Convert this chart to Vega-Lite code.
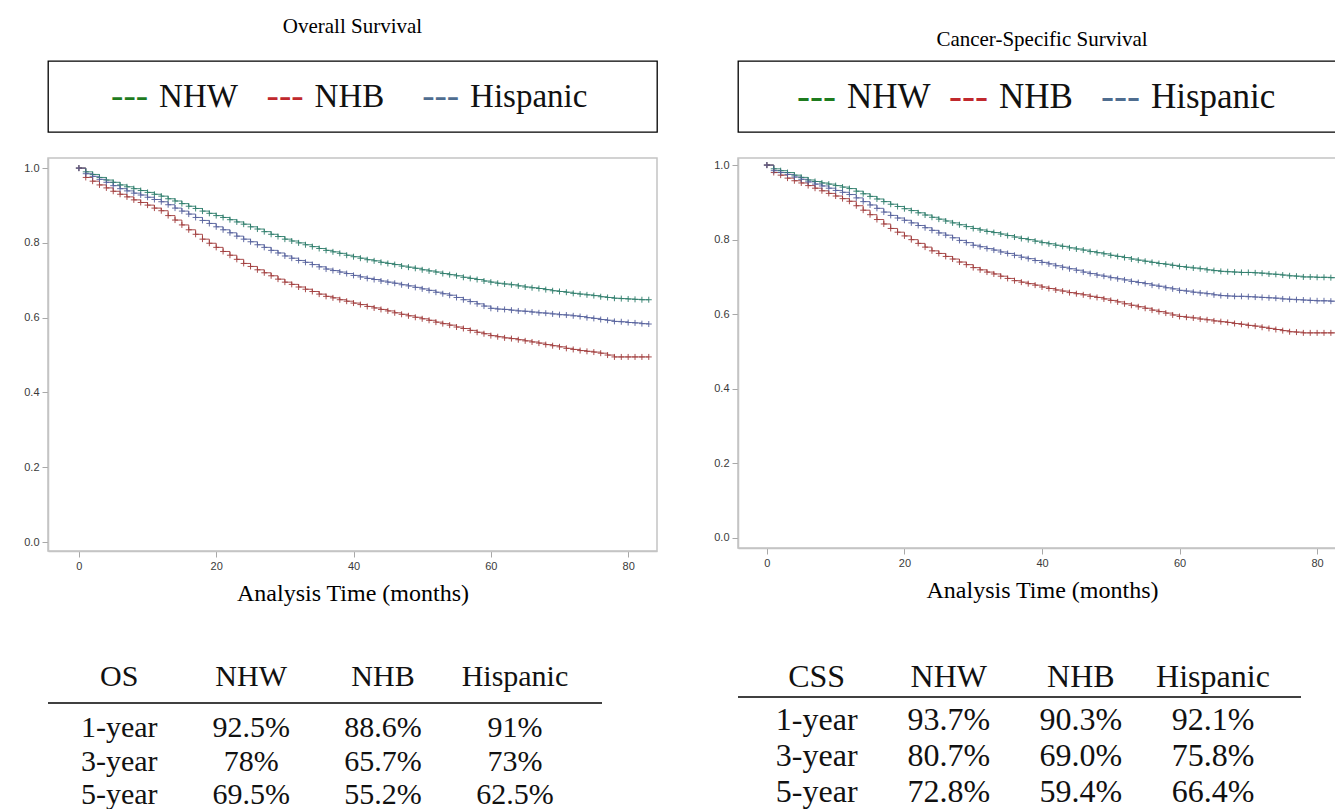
{
  "$schema": "https://vega.github.io/schema/vega-lite/v6.json",
  "padding": {"left": 22, "top": 15, "right": 0, "bottom": 0},
  "bounds": "flush",
  "columns": 2,
  "spacing": {"row": 26, "column": 81},
  "resolve": {"scale": {"color": "independent"}},
  "config": {
    "view": {"stroke": null},
    "axis": {"domainColor": "#c4c4c4", "domainWidth": 1.5, "tickColor": "#a8a8a8", "tickSize": 6, "labelFont": "Liberation Sans Narrow, Liberation Sans", "labelFontSize": 11, "labelColor": "#3a3a3a", "labelPadding": 3, "grid": false, "titleFont": "Liberation Serif", "titleFontSize": 24, "titleFontWeight": "normal", "titleColor": "#000000"},
    "title": {"font": "Liberation Serif", "fontSize": 21, "fontWeight": "normal", "color": "#000000", "anchor": "middle"}
  },
  "datasets": {
    "groups": [{"group": "NHW"}, {"group": "NHB"}, {"group": "Hispanic"}],
    "osTable": [
      {"OS": "OS", "NHW": "NHW", "NHB": "NHB", "Hispanic": "Hispanic"},
      {"OS": "1-year", "NHW": "92.5%", "NHB": "88.6%", "Hispanic": "91%"},
      {"OS": "3-year", "NHW": "78%", "NHB": "65.7%", "Hispanic": "73%"},
      {"OS": "5-year", "NHW": "69.5%", "NHB": "55.2%", "Hispanic": "62.5%"}
    ],
    "cssTable": [
      {"CSS": "CSS", "NHW": "NHW", "NHB": "NHB", "Hispanic": "Hispanic"},
      {"CSS": "1-year", "NHW": "93.7%", "NHB": "90.3%", "Hispanic": "92.1%"},
      {"CSS": "3-year", "NHW": "80.7%", "NHB": "69.0%", "Hispanic": "75.8%"},
      {"CSS": "5-year", "NHW": "72.8%", "NHB": "59.4%", "Hispanic": "66.4%"}
    ],
    "os": [
      {"t":0,"NHW":1,"NHB":1,"Hispanic":1},
      {"t":1,"NHW":0.990,"NHB":0.975,"Hispanic":0.985},
      {"t":2,"NHW":0.983,"NHB":0.965,"Hispanic":0.978},
      {"t":3,"NHW":0.975,"NHB":0.955,"Hispanic":0.970},
      {"t":4,"NHW":0.968,"NHB":0.947,"Hispanic":0.962},
      {"t":5,"NHW":0.962,"NHB":0.938,"Hispanic":0.953},
      {"t":6,"NHW":0.955,"NHB":0.930,"Hispanic":0.945},
      {"t":7,"NHW":0.950,"NHB":0.923,"Hispanic":0.939},
      {"t":8,"NHW":0.945,"NHB":0.915,"Hispanic":0.933},
      {"t":9,"NHW":0.940,"NHB":0.908,"Hispanic":0.928},
      {"t":10,"NHW":0.935,"NHB":0.901,"Hispanic":0.922},
      {"t":11,"NHW":0.930,"NHB":0.893,"Hispanic":0.916},
      {"t":12,"NHW":0.925,"NHB":0.886,"Hispanic":0.910},
      {"t":13,"NHW":0.918,"NHB":0.873,"Hispanic":0.902},
      {"t":14,"NHW":0.912,"NHB":0.861,"Hispanic":0.893},
      {"t":15,"NHW":0.905,"NHB":0.848,"Hispanic":0.885},
      {"t":16,"NHW":0.898,"NHB":0.835,"Hispanic":0.877},
      {"t":17,"NHW":0.892,"NHB":0.823,"Hispanic":0.868},
      {"t":18,"NHW":0.885,"NHB":0.810,"Hispanic":0.860},
      {"t":19,"NHW":0.879,"NHB":0.799,"Hispanic":0.852},
      {"t":20,"NHW":0.873,"NHB":0.788,"Hispanic":0.843},
      {"t":21,"NHW":0.868,"NHB":0.777,"Hispanic":0.835},
      {"t":22,"NHW":0.862,"NHB":0.767,"Hispanic":0.827},
      {"t":23,"NHW":0.856,"NHB":0.756,"Hispanic":0.818},
      {"t":24,"NHW":0.850,"NHB":0.745,"Hispanic":0.810},
      {"t":25,"NHW":0.843,"NHB":0.737,"Hispanic":0.803},
      {"t":26,"NHW":0.837,"NHB":0.728,"Hispanic":0.795},
      {"t":27,"NHW":0.830,"NHB":0.720,"Hispanic":0.788},
      {"t":28,"NHW":0.823,"NHB":0.712,"Hispanic":0.780},
      {"t":29,"NHW":0.817,"NHB":0.703,"Hispanic":0.773},
      {"t":30,"NHW":0.810,"NHB":0.695,"Hispanic":0.765},
      {"t":31,"NHW":0.805,"NHB":0.689,"Hispanic":0.759},
      {"t":32,"NHW":0.800,"NHB":0.682,"Hispanic":0.753},
      {"t":33,"NHW":0.795,"NHB":0.676,"Hispanic":0.748},
      {"t":34,"NHW":0.790,"NHB":0.670,"Hispanic":0.742},
      {"t":35,"NHW":0.785,"NHB":0.663,"Hispanic":0.736},
      {"t":36,"NHW":0.780,"NHB":0.657,"Hispanic":0.730},
      {"t":37,"NHW":0.776,"NHB":0.653,"Hispanic":0.726},
      {"t":38,"NHW":0.772,"NHB":0.648,"Hispanic":0.722},
      {"t":39,"NHW":0.767,"NHB":0.644,"Hispanic":0.718},
      {"t":40,"NHW":0.763,"NHB":0.639,"Hispanic":0.713},
      {"t":41,"NHW":0.759,"NHB":0.635,"Hispanic":0.709},
      {"t":42,"NHW":0.755,"NHB":0.630,"Hispanic":0.705},
      {"t":43,"NHW":0.752,"NHB":0.626,"Hispanic":0.702},
      {"t":44,"NHW":0.748,"NHB":0.622,"Hispanic":0.698},
      {"t":45,"NHW":0.745,"NHB":0.618,"Hispanic":0.695},
      {"t":46,"NHW":0.742,"NHB":0.613,"Hispanic":0.692},
      {"t":47,"NHW":0.738,"NHB":0.609,"Hispanic":0.688},
      {"t":48,"NHW":0.735,"NHB":0.605,"Hispanic":0.685},
      {"t":49,"NHW":0.732,"NHB":0.601,"Hispanic":0.681},
      {"t":50,"NHW":0.728,"NHB":0.597,"Hispanic":0.677},
      {"t":51,"NHW":0.725,"NHB":0.593,"Hispanic":0.673},
      {"t":52,"NHW":0.722,"NHB":0.588,"Hispanic":0.668},
      {"t":53,"NHW":0.718,"NHB":0.584,"Hispanic":0.664},
      {"t":54,"NHW":0.715,"NHB":0.580,"Hispanic":0.660},
      {"t":55,"NHW":0.712,"NHB":0.575,"Hispanic":0.654},
      {"t":56,"NHW":0.708,"NHB":0.571,"Hispanic":0.648},
      {"t":57,"NHW":0.705,"NHB":0.566,"Hispanic":0.643},
      {"t":58,"NHW":0.702,"NHB":0.561,"Hispanic":0.637},
      {"t":59,"NHW":0.698,"NHB":0.557,"Hispanic":0.631},
      {"t":60,"NHW":0.695,"NHB":0.552,"Hispanic":0.625},
      {"t":61,"NHW":0.692,"NHB":0.549,"Hispanic":0.623},
      {"t":62,"NHW":0.690,"NHB":0.546,"Hispanic":0.622},
      {"t":63,"NHW":0.688,"NHB":0.544,"Hispanic":0.620},
      {"t":64,"NHW":0.685,"NHB":0.541,"Hispanic":0.618},
      {"t":65,"NHW":0.682,"NHB":0.538,"Hispanic":0.617},
      {"t":66,"NHW":0.680,"NHB":0.535,"Hispanic":0.615},
      {"t":67,"NHW":0.678,"NHB":0.532,"Hispanic":0.613},
      {"t":68,"NHW":0.675,"NHB":0.528,"Hispanic":0.612},
      {"t":69,"NHW":0.672,"NHB":0.525,"Hispanic":0.610},
      {"t":70,"NHW":0.670,"NHB":0.522,"Hispanic":0.608},
      {"t":71,"NHW":0.668,"NHB":0.518,"Hispanic":0.607},
      {"t":72,"NHW":0.665,"NHB":0.515,"Hispanic":0.605},
      {"t":73,"NHW":0.663,"NHB":0.512,"Hispanic":0.603},
      {"t":74,"NHW":0.661,"NHB":0.510,"Hispanic":0.600},
      {"t":75,"NHW":0.659,"NHB":0.508,"Hispanic":0.598},
      {"t":76,"NHW":0.656,"NHB":0.505,"Hispanic":0.595},
      {"t":77,"NHW":0.654,"NHB":0.500,"Hispanic":0.593},
      {"t":78,"NHW":0.652,"NHB":0.495,"Hispanic":0.590},
      {"t":79,"NHW":0.651,"NHB":0.495,"Hispanic":0.589},
      {"t":80,"NHW":0.650,"NHB":0.495,"Hispanic":0.587},
      {"t":81,"NHW":0.649,"NHB":0.495,"Hispanic":0.586},
      {"t":82,"NHW":0.648,"NHB":0.495,"Hispanic":0.584},
      {"t":83,"NHW":0.648,"NHB":0.495,"Hispanic":0.583}
    ],
    "css": [
      {"t":0,"NHW":1,"NHB":1,"Hispanic":1},
      {"t":1,"NHW":0.990,"NHB":0.980,"Hispanic":0.985},
      {"t":2,"NHW":0.985,"NHB":0.973,"Hispanic":0.980},
      {"t":3,"NHW":0.980,"NHB":0.965,"Hispanic":0.975},
      {"t":4,"NHW":0.973,"NHB":0.958,"Hispanic":0.968},
      {"t":5,"NHW":0.967,"NHB":0.952,"Hispanic":0.962},
      {"t":6,"NHW":0.960,"NHB":0.945,"Hispanic":0.955},
      {"t":7,"NHW":0.956,"NHB":0.938,"Hispanic":0.949},
      {"t":8,"NHW":0.952,"NHB":0.931,"Hispanic":0.944},
      {"t":9,"NHW":0.949,"NHB":0.924,"Hispanic":0.938},
      {"t":10,"NHW":0.945,"NHB":0.917,"Hispanic":0.932},
      {"t":11,"NHW":0.941,"NHB":0.910,"Hispanic":0.927},
      {"t":12,"NHW":0.937,"NHB":0.903,"Hispanic":0.921},
      {"t":13,"NHW":0.930,"NHB":0.891,"Hispanic":0.912},
      {"t":14,"NHW":0.923,"NHB":0.879,"Hispanic":0.902},
      {"t":15,"NHW":0.916,"NHB":0.867,"Hispanic":0.893},
      {"t":16,"NHW":0.909,"NHB":0.854,"Hispanic":0.884},
      {"t":17,"NHW":0.902,"NHB":0.842,"Hispanic":0.874},
      {"t":18,"NHW":0.895,"NHB":0.830,"Hispanic":0.865},
      {"t":19,"NHW":0.889,"NHB":0.820,"Hispanic":0.858},
      {"t":20,"NHW":0.883,"NHB":0.810,"Hispanic":0.852},
      {"t":21,"NHW":0.878,"NHB":0.800,"Hispanic":0.845},
      {"t":22,"NHW":0.872,"NHB":0.790,"Hispanic":0.838},
      {"t":23,"NHW":0.866,"NHB":0.780,"Hispanic":0.832},
      {"t":24,"NHW":0.860,"NHB":0.770,"Hispanic":0.825},
      {"t":25,"NHW":0.855,"NHB":0.763,"Hispanic":0.818},
      {"t":26,"NHW":0.850,"NHB":0.755,"Hispanic":0.812},
      {"t":27,"NHW":0.845,"NHB":0.748,"Hispanic":0.805},
      {"t":28,"NHW":0.840,"NHB":0.740,"Hispanic":0.798},
      {"t":29,"NHW":0.835,"NHB":0.733,"Hispanic":0.792},
      {"t":30,"NHW":0.830,"NHB":0.725,"Hispanic":0.785},
      {"t":31,"NHW":0.826,"NHB":0.719,"Hispanic":0.781},
      {"t":32,"NHW":0.822,"NHB":0.713,"Hispanic":0.776},
      {"t":33,"NHW":0.819,"NHB":0.708,"Hispanic":0.772},
      {"t":34,"NHW":0.815,"NHB":0.702,"Hispanic":0.767},
      {"t":35,"NHW":0.811,"NHB":0.696,"Hispanic":0.763},
      {"t":36,"NHW":0.807,"NHB":0.690,"Hispanic":0.758},
      {"t":37,"NHW":0.803,"NHB":0.686,"Hispanic":0.753},
      {"t":38,"NHW":0.800,"NHB":0.682,"Hispanic":0.749},
      {"t":39,"NHW":0.796,"NHB":0.678,"Hispanic":0.744},
      {"t":40,"NHW":0.792,"NHB":0.673,"Hispanic":0.739},
      {"t":41,"NHW":0.789,"NHB":0.669,"Hispanic":0.735},
      {"t":42,"NHW":0.785,"NHB":0.665,"Hispanic":0.730},
      {"t":43,"NHW":0.782,"NHB":0.662,"Hispanic":0.726},
      {"t":44,"NHW":0.778,"NHB":0.658,"Hispanic":0.722},
      {"t":45,"NHW":0.775,"NHB":0.655,"Hispanic":0.718},
      {"t":46,"NHW":0.772,"NHB":0.652,"Hispanic":0.713},
      {"t":47,"NHW":0.768,"NHB":0.648,"Hispanic":0.709},
      {"t":48,"NHW":0.765,"NHB":0.645,"Hispanic":0.705},
      {"t":49,"NHW":0.762,"NHB":0.641,"Hispanic":0.702},
      {"t":50,"NHW":0.758,"NHB":0.637,"Hispanic":0.698},
      {"t":51,"NHW":0.755,"NHB":0.633,"Hispanic":0.695},
      {"t":52,"NHW":0.752,"NHB":0.628,"Hispanic":0.692},
      {"t":53,"NHW":0.748,"NHB":0.624,"Hispanic":0.688},
      {"t":54,"NHW":0.745,"NHB":0.620,"Hispanic":0.685},
      {"t":55,"NHW":0.742,"NHB":0.616,"Hispanic":0.682},
      {"t":56,"NHW":0.739,"NHB":0.611,"Hispanic":0.678},
      {"t":57,"NHW":0.736,"NHB":0.607,"Hispanic":0.675},
      {"t":58,"NHW":0.734,"NHB":0.603,"Hispanic":0.671},
      {"t":59,"NHW":0.731,"NHB":0.598,"Hispanic":0.668},
      {"t":60,"NHW":0.728,"NHB":0.594,"Hispanic":0.664},
      {"t":61,"NHW":0.726,"NHB":0.592,"Hispanic":0.662},
      {"t":62,"NHW":0.724,"NHB":0.590,"Hispanic":0.659},
      {"t":63,"NHW":0.722,"NHB":0.587,"Hispanic":0.657},
      {"t":64,"NHW":0.719,"NHB":0.585,"Hispanic":0.655},
      {"t":65,"NHW":0.717,"NHB":0.582,"Hispanic":0.652},
      {"t":66,"NHW":0.715,"NHB":0.580,"Hispanic":0.650},
      {"t":67,"NHW":0.714,"NHB":0.578,"Hispanic":0.649},
      {"t":68,"NHW":0.713,"NHB":0.575,"Hispanic":0.648},
      {"t":69,"NHW":0.712,"NHB":0.573,"Hispanic":0.648},
      {"t":70,"NHW":0.712,"NHB":0.570,"Hispanic":0.647},
      {"t":71,"NHW":0.711,"NHB":0.568,"Hispanic":0.646},
      {"t":72,"NHW":0.710,"NHB":0.565,"Hispanic":0.645},
      {"t":73,"NHW":0.708,"NHB":0.562,"Hispanic":0.644},
      {"t":74,"NHW":0.707,"NHB":0.559,"Hispanic":0.643},
      {"t":75,"NHW":0.705,"NHB":0.556,"Hispanic":0.641},
      {"t":76,"NHW":0.703,"NHB":0.553,"Hispanic":0.640},
      {"t":77,"NHW":0.702,"NHB":0.552,"Hispanic":0.639},
      {"t":78,"NHW":0.700,"NHB":0.550,"Hispanic":0.638},
      {"t":79,"NHW":0.700,"NHB":0.550,"Hispanic":0.637},
      {"t":80,"NHW":0.699,"NHB":0.550,"Hispanic":0.636},
      {"t":81,"NHW":0.699,"NHB":0.550,"Hispanic":0.636},
      {"t":82,"NHW":0.698,"NHB":0.550,"Hispanic":0.635},
      {"t":83,"NHW":0.698,"NHB":0.550,"Hispanic":0.635}
    ]
  },
  "concat": [
    {
      "width": 609, "height": 71,
      "title": {"text": "Overall Survival", "offset": 24},
      "view": {"stroke": "#000000", "strokeWidth": 1.3},
      "data": {"name": "groups"},
      "encoding": {"x": {"field": "group", "type": "nominal", "scale": {"type": "point", "domain": ["NHW", "NHB", "Hispanic"], "padding": 0.958, "align": 0.356}, "axis": null}},
      "layer": [
        {"mark": {"type": "text", "text": "---", "align": "right", "dx": -6, "baseline": "middle", "font": "Liberation Serif", "fontSize": 37},
         "encoding": {"color": {"field": "group", "type": "nominal", "scale": {"domain": ["NHW", "NHB", "Hispanic"], "range": ["#1e7b1e", "#c0282d", "#4f6d8f"]}, "legend": null}}},
        {"mark": {"type": "text", "align": "left", "dx": 5, "baseline": "middle", "font": "Liberation Serif", "fontSize": 33, "color": "#111111"},
         "encoding": {"text": {"field": "group"}}}
      ]
    },
    {
      "width": 608, "height": 71,
      "title": {"text": "Cancer-Specific Survival", "offset": 11},
      "view": {"stroke": "#000000", "strokeWidth": 1.3},
      "data": {"name": "groups"},
      "encoding": {"x": {"field": "group", "type": "nominal", "scale": {"type": "point", "domain": ["NHW", "NHB", "Hispanic"], "padding": 1, "align": 0.342}, "axis": null}},
      "layer": [
        {"mark": {"type": "text", "text": "---", "align": "right", "dx": -6, "baseline": "middle", "font": "Liberation Serif", "fontSize": 39},
         "encoding": {"color": {"field": "group", "type": "nominal", "scale": {"domain": ["NHW", "NHB", "Hispanic"], "range": ["#1e7b1e", "#c0282d", "#4f6d8f"]}, "legend": null}}},
        {"mark": {"type": "text", "align": "left", "dx": 5, "baseline": "middle", "font": "Liberation Serif", "fontSize": 35, "color": "#111111"},
         "encoding": {"text": {"field": "group"}}}
      ]
    },
    {
      "width": 609, "height": 393,
      "view": {"stroke": "#c4c4c4", "strokeWidth": 1.5},
      "data": {"name": "os"},
      "transform": [{"fold": ["NHW", "NHB", "Hispanic"], "as": ["group", "surv"]}],
      "encoding": {
        "x": {"field": "t", "type": "quantitative", "scale": {"domain": [-4.5, 84.2], "nice": false, "zero": false}, "axis": {"values": [0, 20, 40, 60, 80], "title": "Analysis Time (months)", "titlePadding": 10}},
        "y": {"field": "surv", "type": "quantitative", "scale": {"domain": [-0.024, 1.027], "nice": false, "zero": false}, "axis": {"values": [0, 0.2, 0.4, 0.6, 0.8, 1], "format": ".1f", "title": null}},
        "color": {"field": "group", "type": "nominal", "scale": {"domain": ["NHW", "NHB", "Hispanic"], "range": ["#2e7d6b", "#a13c3c", "#55609c"]}, "legend": null}
      },
      "layer": [
        {"mark": {"type": "line", "interpolate": "step-after", "strokeWidth": 1, "opacity": 0.9}},
        {"mark": {"type": "point", "shape": "M-1,0H1M0,-1V1", "filled": false, "size": 36, "strokeWidth": 1, "opacity": 0.9}}
      ]
    },
    {
      "width": 608, "height": 390,
      "view": {"stroke": "#c4c4c4", "strokeWidth": 1.5},
      "data": {"name": "css"},
      "transform": [{"fold": ["NHW", "NHB", "Hispanic"], "as": ["group", "surv"]}],
      "encoding": {
        "x": {"field": "t", "type": "quantitative", "scale": {"domain": [-4.2, 84.2], "nice": false, "zero": false}, "axis": {"values": [0, 20, 40, 60, 80], "title": "Analysis Time (months)", "titlePadding": 10}},
        "y": {"field": "surv", "type": "quantitative", "scale": {"domain": [-0.027, 1.019], "nice": false, "zero": false}, "axis": {"values": [0, 0.2, 0.4, 0.6, 0.8, 1], "format": ".1f", "title": null}},
        "color": {"field": "group", "type": "nominal", "scale": {"domain": ["NHW", "NHB", "Hispanic"], "range": ["#2e7d6b", "#a13c3c", "#55609c"]}, "legend": null}
      },
      "layer": [
        {"mark": {"type": "line", "interpolate": "step-after", "strokeWidth": 1, "opacity": 0.9}},
        {"mark": {"type": "point", "shape": "M-1,0H1M0,-1V1", "filled": false, "size": 36, "strokeWidth": 1, "opacity": 0.9}}
      ]
    },
    {
      "width": 554, "height": 167.5,
      "data": {"name": "osTable"},
      "transform": [{"fold": ["OS", "NHW", "NHB", "Hispanic"], "as": ["col", "val"]}],
      "layer": [
        {"transform": [{"filter": "datum.OS == 'OS'"}],
         "mark": {"type": "text", "font": "Liberation Serif", "fontSize": 30, "baseline": "middle", "color": "#111111", "yOffset": 33},
         "encoding": {
           "x": {"field": "col", "type": "nominal", "scale": {"type": "point", "domain": ["OS", "NHW", "NHB", "Hispanic"], "padding": 0.6, "align": 0.45}, "axis": null},
           "y": {"field": "OS", "type": "nominal", "scale": {"type": "point", "domain": ["OS", "1-year", "3-year", "5-year"], "padding": 1, "align": 1}, "axis": null},
           "text": {"field": "val"}}},
        {"transform": [{"filter": "datum.OS != 'OS'"}],
         "mark": {"type": "text", "font": "Liberation Serif", "fontSize": 30, "baseline": "middle", "color": "#111111", "yOffset": 50.5},
         "encoding": {
           "x": {"field": "col", "type": "nominal", "scale": {"type": "point", "domain": ["OS", "NHW", "NHB", "Hispanic"], "padding": 0.6, "align": 0.45}, "axis": null},
           "y": {"field": "OS", "type": "nominal", "scale": {"type": "point", "domain": ["OS", "1-year", "3-year", "5-year"], "padding": 1, "align": 1}, "axis": null},
           "text": {"field": "val"}}},
        {"transform": [{"filter": "datum.OS == 'OS' && datum.col == 'OS'"}],
         "mark": {"type": "rule", "color": "#000000", "strokeWidth": 1.3, "yOffset": 25.5},
         "encoding": {"y": {"datum": "1-year", "type": "nominal", "scale": {"type": "point", "domain": ["OS", "1-year", "3-year", "5-year"], "padding": 1, "align": 1}, "axis": null}}}
      ]
    },
    {
      "width": 563, "height": 180,
      "data": {"name": "cssTable"},
      "transform": [{"fold": ["CSS", "NHW", "NHB", "Hispanic"], "as": ["col", "val"]}],
      "layer": [
        {"transform": [{"filter": "datum.CSS == 'CSS'"}],
         "mark": {"type": "text", "font": "Liberation Serif", "fontSize": 32, "baseline": "middle", "color": "#111111", "yOffset": 28},
         "encoding": {
           "x": {"field": "col", "type": "nominal", "scale": {"type": "point", "domain": ["CSS", "NHW", "NHB", "Hispanic"], "padding": 0.631, "align": 0.472}, "axis": null},
           "y": {"field": "CSS", "type": "nominal", "scale": {"type": "point", "domain": ["CSS", "1-year", "3-year", "5-year"], "padding": 1, "align": 1}, "axis": null},
           "text": {"field": "val"}}},
        {"transform": [{"filter": "datum.CSS != 'CSS'"}],
         "mark": {"type": "text", "font": "Liberation Serif", "fontSize": 32, "baseline": "middle", "color": "#111111", "yOffset": 35},
         "encoding": {
           "x": {"field": "col", "type": "nominal", "scale": {"type": "point", "domain": ["CSS", "NHW", "NHB", "Hispanic"], "padding": 0.631, "align": 0.472}, "axis": null},
           "y": {"field": "CSS", "type": "nominal", "scale": {"type": "point", "domain": ["CSS", "1-year", "3-year", "5-year"], "padding": 1, "align": 1}, "axis": null},
           "text": {"field": "val"}}},
        {"transform": [{"filter": "datum.CSS == 'CSS' && datum.col == 'CSS'"}],
         "mark": {"type": "rule", "color": "#000000", "strokeWidth": 1.3, "yOffset": 12},
         "encoding": {"y": {"datum": "1-year", "type": "nominal", "scale": {"type": "point", "domain": ["CSS", "1-year", "3-year", "5-year"], "padding": 1, "align": 1}, "axis": null}}}
      ]
    }
  ]
}
